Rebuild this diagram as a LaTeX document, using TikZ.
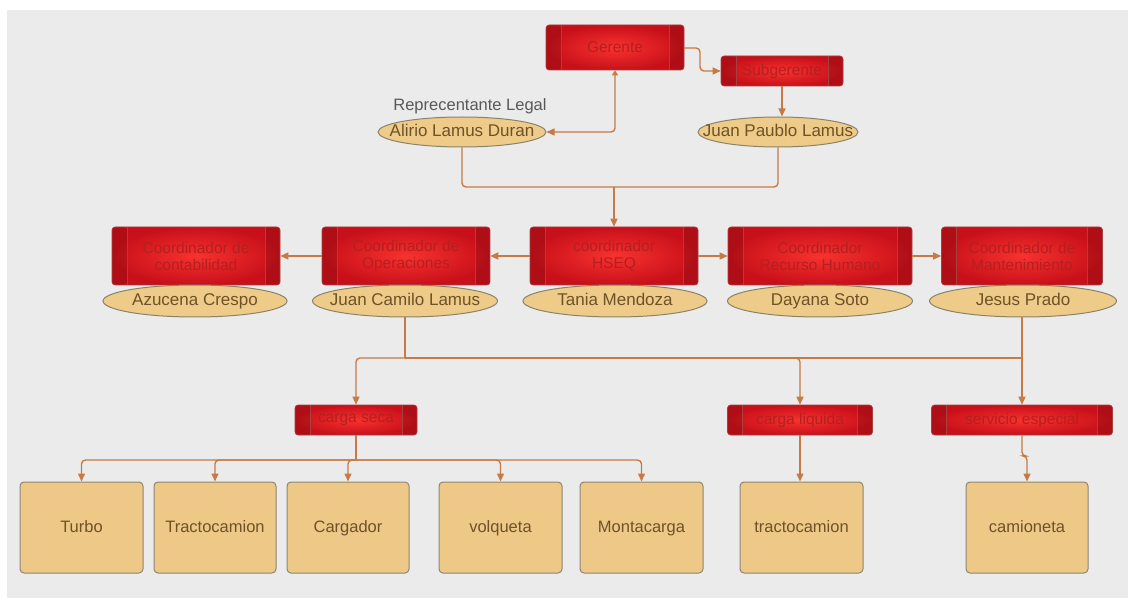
\documentclass[tikz,border=0pt]{standalone}
\usepackage{fontspec}
\setmainfont{Liberation Sans}
\usetikzlibrary{arrows.meta,shapes.geometric,calc}
\definecolor{bgc}{HTML}{EBEBEB}
\definecolor{conc}{HTML}{C67A45}
\definecolor{redin}{HTML}{F8322E}
\definecolor{redout}{HTML}{C8101A}
\definecolor{redtxt}{HTML}{B42020}
\definecolor{redline}{HTML}{A84040}
\definecolor{tanfill}{HTML}{EECB88}
\definecolor{tanline}{HTML}{8A836C}
\definecolor{tantxt}{HTML}{6E5228}
\definecolor{boxfill}{HTML}{EDC886}
\definecolor{boxline}{HTML}{8C8677}
\newcommand{\pl}[1]{\makebox[0pt]{#1}}
\begin{document}
\begin{tikzpicture}[x=1pt,y=-1pt,
  redbox/.style={rectangle, rounded corners=3pt, draw=redline, line width=0.6pt,
    inner color=redin, outer color=redout, text=redtxt, align=center,
    font=\fontsize{15.5}{17}\selectfont, inner sep=0pt,
    path picture={
      \fill[black,opacity=0.12] (path picture bounding box.north west) rectangle ([xshift=15pt]path picture bounding box.south west);
      \fill[black,opacity=0.12] (path picture bounding box.north east) rectangle ([xshift=-15pt]path picture bounding box.south east);
      \draw[redline,line width=0.7pt] ([xshift=15pt]path picture bounding box.north west) -- ([xshift=15pt]path picture bounding box.south west);
      \draw[redline,line width=0.7pt] ([xshift=-15pt]path picture bounding box.north east) -- ([xshift=-15pt]path picture bounding box.south east);
    }},
  person/.style={ellipse, draw=tanline, line width=1pt, fill=tanfill, text=tantxt,
    font=\fontsize{17}{19}\selectfont, inner sep=0pt, text height=12pt, text depth=3pt},
  unit/.style={rectangle, rounded corners=4pt, draw=boxline, line width=1pt, fill=boxfill,
    text=tantxt, font=\fontsize{16.5}{18}\selectfont, minimum width=122pt, minimum height=91pt,
    text height=12pt, text depth=3pt},
  conn/.style={draw=conc, line width=1.4pt, rounded corners=4pt},
  arr/.style={conn, -{Triangle[length=8pt,width=7pt]}},
]
\useasboundingbox (0,0) rectangle (1128,604);
\fill[bgc] (7,10) rectangle (1128,598);

% top
\node[redbox, minimum width=138pt, minimum height=45pt] (ger) at (615,47.5) {Gerente};
\node[redbox, minimum width=122pt, minimum height=30pt] (sub) at (782,71) {Subgerente};
\node[person, minimum width=168pt, minimum height=30pt] (ali) at (462,132) {\pl{Alirio Lamus Duran}};
\node[person, minimum width=160pt, minimum height=30pt] (jpl) at (778,132) {\pl{Juan Paublo Lamus}};
\node[text=gray!70!black, font=\fontsize{16.5}{18}\selectfont] (rep) at (470,106) {Reprecentante Legal};

% coordinators
\node[redbox, minimum width=168pt, minimum height=58pt] (cont) at (196,256) {Coordinador de\\contabilidad};
\node[redbox, minimum width=168pt, minimum height=58pt] (oper) at (406,256) {Coordinador de\\Operaciones};
\node[redbox, minimum width=168pt, minimum height=58pt] (hseq) at (614,256) {coordinador\\HSEQ};
\node[redbox, minimum width=184pt, minimum height=58pt] (rrhh) at (820,256) {Coordinador\\Recurso Humano};
\node[redbox, minimum width=161pt, minimum height=58pt] (mant) at (1022,256) {Coordinador de\\Mantenimiento};

\node[person, minimum width=184pt, minimum height=32pt] (azu) at (195,301) {\pl{Azucena Crespo}};
\node[person, minimum width=185pt, minimum height=32pt] (jcl) at (405,301) {\pl{Juan Camilo Lamus}};
\node[person, minimum width=184pt, minimum height=32pt] (tan) at (615,301) {\pl{Tania Mendoza}};
\node[person, minimum width=185pt, minimum height=32pt] (day) at (820,301) {\pl{Dayana Soto}};
\node[person, minimum width=187pt, minimum height=32pt] (jes) at (1023,301) {\pl{Jesus Prado}};

% categories
\node[redbox, minimum width=122pt, minimum height=30pt] (seca) at (356,420) {carga seca};
\node[redbox, minimum width=145pt, minimum height=30pt] (liq) at (800,420) {carga liquida};
\node[redbox, minimum width=181pt, minimum height=30pt] (serv) at (1022,420) {servicio especial};

% units
\node[unit, minimum width=123pt] (turbo) at (81.5,527.5) {Turbo};
\node[unit] (tract) at (215,527.5) {Tractocamion};
\node[unit] (carg) at (348,527.5) {Cargador};
\node[unit, minimum width=123pt] (volq) at (500.5,527.5) {volqueta};
\node[unit, minimum width=123pt] (mont) at (641.5,527.5) {Montacarga};
\node[unit, minimum width=123pt] (tract2) at (801.5,527.5) {tractocamion};
\node[unit] (cam) at (1027,527.5) {camioneta};

% connectors top
\coordinate (g1) at (700,48);
\draw[arr] (ger.east |- g1) -- (g1) |- (sub.west);
\draw[arr, {Triangle[length=5pt,width=6pt]}-{Triangle[length=8pt,width=7pt]}] (ger.south) |- (ali.east);
\draw[arr] (sub.south) -- (sub.south |- jpl.north);
\coordinate (j1) at (614,187);
\draw[conn] (ali.south) |- (j1) -| (jpl.south);
\draw[arr] (j1) -- (hseq.north);

% coordinators row
\draw[arr] (hseq.west) -- (oper.east);
\draw[arr] (oper.west) -- (cont.east);
\draw[arr] (hseq.east) -- (rrhh.west);
\draw[arr] (rrhh.east) -- (mant.west);

% to categories
\coordinate (hb) at (405,358);
\coordinate (hr) at (1022,358);
\draw[conn] (jcl.south) -- (hb);
\draw[conn] (jes.south -| hr) -- (hr);
\draw[conn] (hb) -- (hr);
\draw[arr] (hb) -| (seca.north);
\draw[arr] (hb) -| (liq.north);
\draw[arr] (hr) -- (serv.north);

% to units
\coordinate (sb) at (356,460);
\draw[conn] (seca.south) -- (sb);
\draw[arr] (sb) -| (turbo.north);
\draw[arr] (sb) -| (tract.north);
\draw[arr] (sb) -| (carg.north);
\draw[arr] (sb) -| (volq.north);
\draw[arr] (sb) -| (mont.north);
\draw[arr] (liq.south) -- (liq.south |- tract2.north);
\coordinate (cb) at (1022,456);
\draw[arr] (serv.south) -- (cb) -| (cam.north);
\end{tikzpicture}
\end{document}
